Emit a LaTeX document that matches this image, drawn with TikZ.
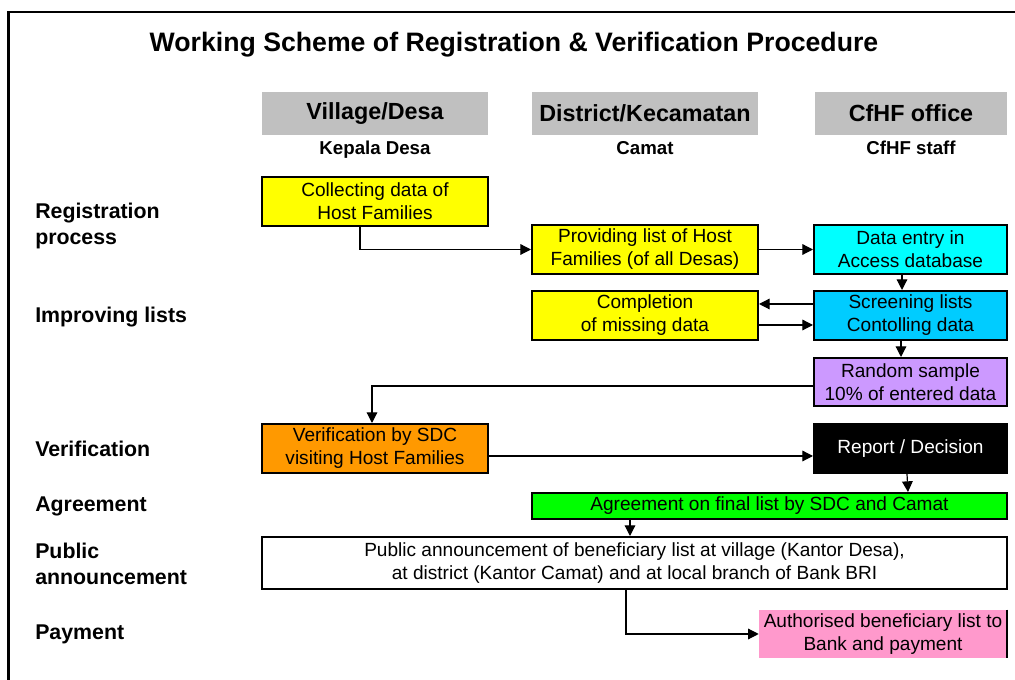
\documentclass[tikz,border=0pt]{standalone}
\usepackage{fontspec}
\setmainfont{Liberation Sans}
\usetikzlibrary{arrows.meta,calc,fit}
\definecolor{hgray}{HTML}{C0C0C0}
\definecolor{cyel}{HTML}{FFFF00}
\definecolor{ccyan}{HTML}{00FFFF}
\definecolor{cblue}{HTML}{00CCFF}
\definecolor{clav}{HTML}{CC99FF}
\definecolor{corange}{HTML}{FF9900}
\definecolor{cgreen}{HTML}{00FF00}
\definecolor{cpink}{HTML}{FF99CC}
\begin{document}
\begin{tikzpicture}[x=0.75pt,y=-0.75pt,
  box/.style={draw=black, line width=1.5pt, inner sep=0pt, align=center,
    font=\fontsize{14.3}{17.3}\selectfont},
  hdr/.style={fill=hgray, inner sep=0pt, font=\fontsize{17.5}{21}\selectfont\bfseries},
  sub/.style={anchor=base, inner sep=0pt, font=\fontsize{14}{17}\selectfont\bfseries},
  lbl/.style={anchor=base west, inner sep=0pt, font=\fontsize{16}{19.5}\selectfont\bfseries},
  arr/.style={line width=0.9pt, -{Triangle[length=8pt,width=8pt]}},
  ln/.style={line width=0.9pt}]
\useasboundingbox (0,0) rectangle (1015,680);
% frame
\draw[line width=2pt] (8.5,680) -- (8.5,12) -- (1015,12);
% title
\node[anchor=base, inner sep=0pt, font=\fontsize{20}{24}\selectfont\bfseries] (title) at (514,52)
  {Working Scheme of Registration \& Verification Procedure};
% column headers
\node[hdr, fit={(262,92) (488,135)}] (hv) {};
\node[font=\fontsize{17.5}{21}\selectfont\bfseries] (hvt) at (hv.center) {Village/Desa};
\node[hdr, fit={(532,92) (758,135)}] (hd) {};
\node[font=\fontsize{17.5}{21}\selectfont\bfseries] (hdt) at (hd.center) {District/Kecamatan};
\node[hdr, fit={(815,92) (1007,135)}] (hc) {};
\node[font=\fontsize{17.5}{21}\selectfont\bfseries] (hct) at (hc.center) {CfHF office};
\node[sub] (sv) at (375,155) {Kepala Desa};
\node[sub] (sd) at (645,155) {Camat};
\node[sub] (sc) at (911,155) {CfHF staff};
% row labels
\node[lbl] (l1a) at (35,219) {Registration};
\node[lbl] (l1b) at (35,245) {process};
\node[lbl] (l2) at (35,323) {Improving lists};
\node[lbl] (l3) at (35,457) {Verification};
\node[lbl] (l4) at (35,512) {Agreement};
\node[lbl] (l5a) at (35,559) {Public};
\node[lbl] (l5b) at (35,585) {announcement};
\node[lbl] (l6) at (35,640) {Payment};
% boxes
\node[box, fill=cyel, fit={(262,177) (488,226)}] (coll) {};
\node[align=center, font=\fontsize{14.3}{17.3}\selectfont] at (coll.center) {Collecting data of\\Host Families};
\node[box, fill=cyel, fit={(532,225) (758,274)}] (prov) {};
\node[align=center, font=\fontsize{14.3}{17.3}\selectfont] at (prov.center) {Providing list of Host\\Families (of all Desas)};
\node[box, fill=ccyan, fit={(814,225) (1007,274)}] (entry) {};
\node[align=center, font=\fontsize{14.3}{17.3}\selectfont] at (entry.center) {Data entry in\\Access database};
\node[box, fill=cyel, fit={(532,291) (758,340)}] (compl) {};
\node[align=center, font=\fontsize{14.3}{17.3}\selectfont] at (compl.center) {Completion\\of missing data};
\node[box, fill=cblue, fit={(814,291) (1007,340)}] (screen) {};
\node[align=center, font=\fontsize{14.3}{17.3}\selectfont] at (screen.center) {Screening lists\\Contolling data};
\node[box, fill=clav, fit={(814,358) (1007,406)}] (rand) {};
\node[align=center, font=\fontsize{14.3}{17.3}\selectfont] at (rand.center) {Random sample\\10\% of entered data};
\node[box, fill=corange, fit={(262,424) (488,473)}] (verif) {};
\node[align=center, font=\fontsize{14.3}{17.3}\selectfont] at (verif.center) {Verification by SDC\\visiting Host Families};
\node[box, fill=black, fit={(814,424) (1007,473)}] (report) {};
\node[align=center, text=white, font=\fontsize{14.3}{17.3}\selectfont] at (report.center) {Report / Decision};
\node[box, fill=cgreen, fit={(532,493) (1007,519)}] (agree) {};
\node[align=center, font=\fontsize{14.3}{17.3}\selectfont] at (agree.center) {Agreement on final list by SDC and Camat};
\node[box, fill=white, fit={(262,537) (1007,589)}] (public) {};
\node[align=center, font=\fontsize{14.3}{17.3}\selectfont] at (public.center) {Public announcement of beneficiary list at village (Kantor Desa),\\at district (Kantor Camat) and at local branch of Bank BRI};
\node[fill=cpink, inner sep=0pt, fit={(759,610) (1007,658)}] (auth) {};
\node[align=center, font=\fontsize{14.3}{17.3}\selectfont] at (auth.center) {Authorised beneficiary list to\\Bank and payment};
\draw[line width=1.5pt] (auth.north east) -- (auth.south east);
% connectors
\draw[arr] ($(coll.south)+(-15,0)$) |- (prov.west);
\draw[arr] (prov.east) -- (entry.west);
\draw[arr] ($(entry.south)+(-8.5,0)$) -- ($(screen.north)+(-8.5,0)$);
\draw[arr] ($(screen.west)+(0,-11.5)$) -- ($(compl.east)+(0,-11.5)$);
\draw[arr] ($(compl.east)+(0,9.5)$) -- ($(screen.west)+(0,9.5)$);
\draw[arr] ($(screen.south)+(-9.5,0)$) -- ($(rand.north)+(-9.5,0)$);
\draw[arr] ($(rand.west)+(0,4)$) -| ($(verif.north)+(-3,0)$);
\draw[arr] ($(verif.east)+(0,7.5)$) -- ($(report.west)+(0,7.5)$);
\draw[arr] ($(report.south)+(-3.5,0)$) -- ($(agree.north)+(138.5,0)$);
\draw[arr] ($(agree.north)+(-139.5,26)$) -- ($(public.north)+(-4.5,0)$);
\draw[arr] ($(public.south)+(-8.5,0)$) |- (auth.west);
\end{tikzpicture}
\end{document}
